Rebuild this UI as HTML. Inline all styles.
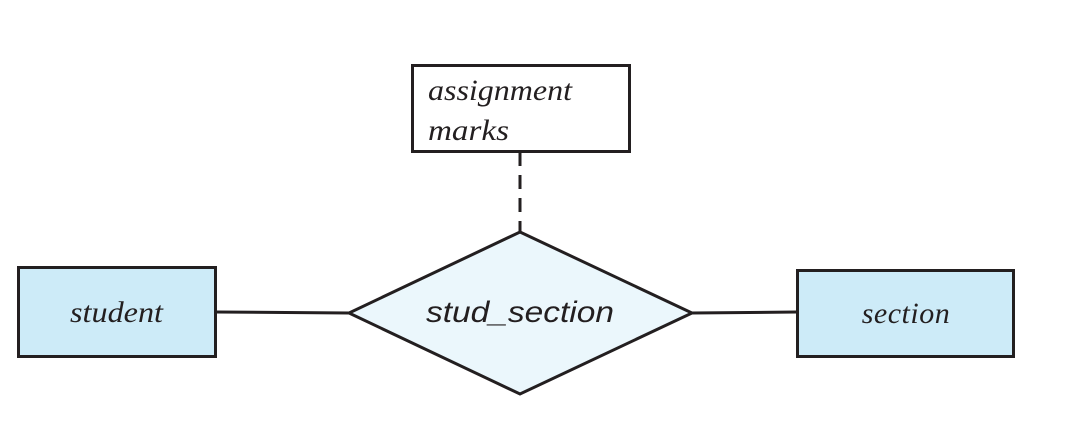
<!DOCTYPE html>
<html><head><meta charset="utf-8"><style>
html,body{margin:0;padding:0;background:#fff;}
</style></head><body>
<svg width="1067" height="420" xmlns="http://www.w3.org/2000/svg">
<rect x="0" y="0" width="1067" height="420" fill="#fff"/>
<line x1="520" y1="152" x2="520" y2="232" stroke="#231f20" stroke-width="3" stroke-dasharray="14,9"/>
<line x1="216" y1="312" x2="349" y2="313" stroke="#231f20" stroke-width="3"/>
<line x1="692" y1="313" x2="797" y2="312" stroke="#231f20" stroke-width="3"/>
<rect x="412.5" y="65.5" width="217" height="86" fill="#fff" stroke="#231f20" stroke-width="3"/>
<text x="428" y="100" textLength="144" lengthAdjust="spacingAndGlyphs" font-family="Liberation Serif, serif" font-style="italic" font-size="30" fill="#231f20">assignment</text>
<text x="428" y="140" textLength="81" lengthAdjust="spacingAndGlyphs" font-family="Liberation Serif, serif" font-style="italic" font-size="30" fill="#231f20">marks</text>
<polygon points="520,232 692,313 520,394 349,313" fill="#ebf7fc" stroke="#231f20" stroke-width="3"/>
<text x="426" y="322" textLength="188" lengthAdjust="spacingAndGlyphs" font-family="Liberation Sans, sans-serif" font-style="italic" font-size="30" fill="#231f20">stud_section</text>
<rect x="18.5" y="267.5" width="197" height="89" fill="#cdebf8" stroke="#231f20" stroke-width="3"/>
<text x="70" y="322" textLength="93" lengthAdjust="spacingAndGlyphs" font-family="Liberation Serif, serif" font-style="italic" font-size="30" fill="#231f20">student</text>
<rect x="797.5" y="270.5" width="216" height="86" fill="#cdebf8" stroke="#231f20" stroke-width="3"/>
<text x="906" y="323" text-anchor="middle" letter-spacing="0.5" font-family="Liberation Serif, serif" font-style="italic" font-size="30" fill="#231f20">section</text>
</svg>
</body></html>
